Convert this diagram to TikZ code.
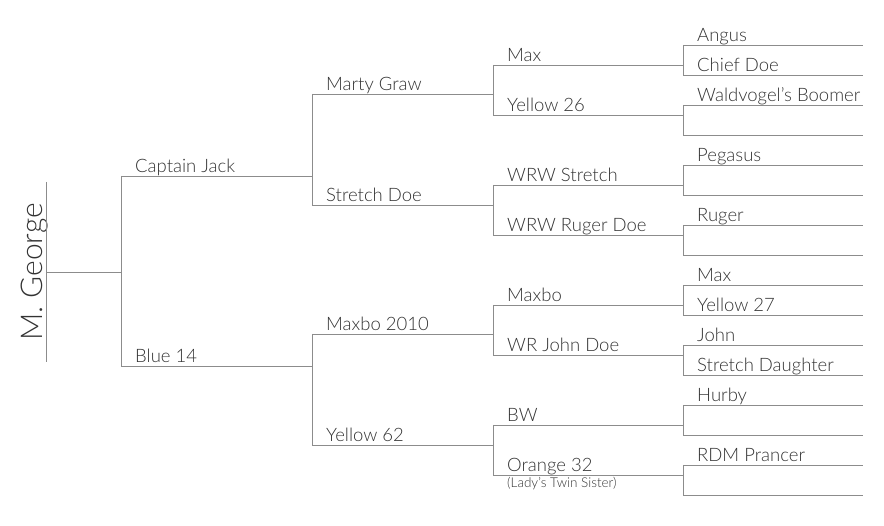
\documentclass[tikz,border=0pt]{standalone}
\usepackage{fontspec}
\IfFontExistsTF{Lato Light}{\setmainfont{Lato Light}}{\setmainfont{Lato}}
\definecolor{linegray}{HTML}{8C8C8C}
\definecolor{txtgray}{HTML}{333333}
\begin{document}
\begin{tikzpicture}[x=1pt,y=-1pt,
  conn/.style={draw=linegray,line width=0.9pt},
  lbl/.style={anchor=base west,inner sep=0pt,text=txtgray,font=\fontsize{18.5}{21}\selectfont},
  small/.style={anchor=base west,inner sep=0pt,text=txtgray,font=\fontsize{13.5}{15}\selectfont},
  title/.style={anchor=base,inner sep=0pt,rotate=90,text=txtgray,font=\fontsize{30}{34}\selectfont}]
\useasboundingbox (0,0) rectangle (884,526);
% root
\coordinate (rt) at (46,182); \coordinate (rb) at (46,362);
\coordinate (rm) at (46,272); \coordinate (g1m) at (121,272);
\node[title] (mg) at (42,272) {M. George};
\draw[conn] (rt) -- (rb);
\draw[conn] (rm) -- (g1m);
% generation 1
\coordinate (g1a) at (121,176); \coordinate (g1b) at (121,366);
\coordinate (g1ae) at (312,176); \coordinate (g1be) at (312,366);
\draw[conn] (g1a) -- (g1b);
\draw[conn] (g1a) -- (g1ae);
\draw[conn] (g1b) -- (g1be);
\node[lbl] (cj) at (135,173) {Captain Jack};
\node[lbl] (b14) at (135,363) {Blue 14};
% generation 2
\foreach \ya/\yb/\na/\nb/\ta/\tb in {94/205/mgw/sdo/{Marty Graw}/{Stretch Doe},334/445/mbx/y62/{Maxbo 2010}/{Yellow 62}}{
  \coordinate (\na s) at (312,\ya); \coordinate (\na e) at (493,\ya);
  \coordinate (\nb s) at (312,\yb); \coordinate (\nb e) at (493,\yb);
  \draw[conn] (\na s) -- (\nb s);
  \draw[conn] (\na s) -- (\na e);
  \draw[conn] (\nb s) -- (\nb e);
  \node[lbl] (\na) at (326,\ya-3) {\ta};
  \node[lbl] (\nb) at (326,\yb-3) {\tb};
}
% generation 3
\foreach \ya/\yb/\na/\nb/\ta/\tb in {65/115/mx/y26/{Max}/{Yellow 26},185/235/wrs/wrr/{WRW Stretch}/{WRW Ruger Doe},305/355/mxb/wrj/{Maxbo}/{WR John Doe},425/475/bw/o32/{BW}/{Orange 32}}{
  \coordinate (\na s) at (493,\ya); \coordinate (\na e) at (683,\ya);
  \coordinate (\nb s) at (493,\yb); \coordinate (\nb e) at (683,\yb);
  \draw[conn] (\na s) -- (\nb s);
  \draw[conn] (\na s) -- (\na e);
  \draw[conn] (\nb s) -- (\nb e);
  \node[lbl] (\na) at (507,\ya-3) {\ta};
  \node[lbl] (\nb) at (507,\yb-3) {\tb};
}
\node[small] (lts) at (507,487.5) {(Lady’s Twin Sister)};
% generation 4
\foreach \ya/\yb/\na/\nb/\ta/\tb in {45/75/ang/chd/{Angus}/{Chief Doe},105/135/wvb/e1/{Waldvogel’s Boomer}/{},165/195/peg/e2/{Pegasus}/{},225/255/rug/e3/{Ruger}/{},285/315/max/y27/{Max}/{Yellow 27},345/375/jhn/std/{John}/{Stretch Daughter},405/435/hrb/e4/{Hurby}/{},465/495/rdm/e5/{RDM Prancer}/{}}{
  \coordinate (\na s) at (683,\ya); \coordinate (\na e) at (863,\ya);
  \coordinate (\nb s) at (683,\yb); \coordinate (\nb e) at (863,\yb);
  \draw[conn] (\na s) -- (\nb s);
  \draw[conn] (\na s) -- (\na e);
  \draw[conn] (\nb s) -- (\nb e);
  \node[lbl] (\na) at (697,\ya-3) {\ta};
  \node[lbl] (\nb) at (697,\yb-3) {\tb};
}
\end{tikzpicture}
\end{document}
